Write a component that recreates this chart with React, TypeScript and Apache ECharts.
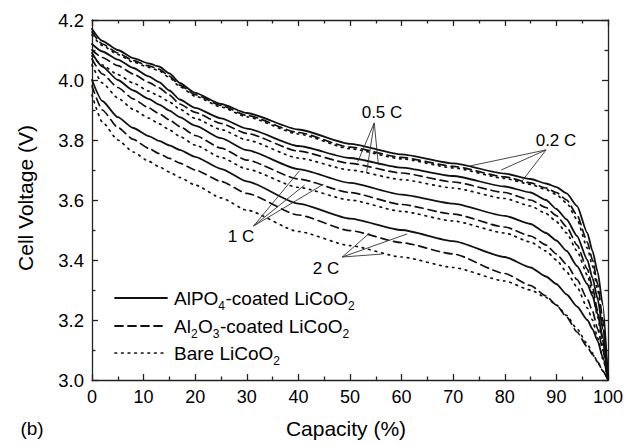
import React, { useEffect, useRef } from "react";
import * as echarts from "echarts";

const FONT = "'Liberation Sans', Arial, Helvetica, sans-serif";

// capacity (%) sample points shared by every curve
const capacity = [0, 2, 5, 8, 11, 13, 15, 17, 20, 25, 30, 40, 50, 60, 70, 80, 85, 88, 90, 92, 94, 96, 97, 98, 99, 100];

// AlPO4-coated LiCoO2 (solid)
const alpo4_02C = [4.17, 4.13, 4.1, 4.073, 4.055, 4.045, 4.022, 3.99, 3.957, 3.92, 3.89, 3.835, 3.787, 3.752, 3.722, 3.688, 3.67, 3.655, 3.643, 3.622, 3.58, 3.49, 3.43, 3.36, 3.25, 3.0];
const alpo4_05C = [4.12, 4.095, 4.068, 4.04, 4.012, 3.993, 3.965, 3.935, 3.907, 3.872, 3.838, 3.78, 3.74, 3.708, 3.68, 3.645, 3.625, 3.6, 3.57, 3.535, 3.48, 3.4, 3.34, 3.27, 3.17, 3.0];
const alpo4_1C = [4.09, 4.045, 4.0, 3.965, 3.937, 3.918, 3.898, 3.876, 3.848, 3.806, 3.766, 3.703, 3.657, 3.618, 3.588, 3.547, 3.52, 3.49, 3.465, 3.43, 3.38, 3.32, 3.28, 3.22, 3.14, 3.0];
const alpo4_2C = [4.0, 3.93, 3.876, 3.84, 3.813, 3.797, 3.782, 3.767, 3.744, 3.704, 3.662, 3.588, 3.538, 3.5, 3.463, 3.41, 3.375, 3.345, 3.32, 3.285, 3.245, 3.2, 3.17, 3.13, 3.075, 3.0];

// Al2O3-coated LiCoO2 (dashed)
const al2o3_02C = [4.16, 4.12, 4.09, 4.065, 4.047, 4.036, 4.013, 3.983, 3.951, 3.915, 3.882, 3.825, 3.776, 3.742, 3.712, 3.677, 3.657, 3.64, 3.625, 3.6, 3.55, 3.46, 3.4, 3.32, 3.2, 3.0];
const al2o3_05C = [4.1, 4.075, 4.048, 4.02, 3.992, 3.974, 3.95, 3.92, 3.892, 3.855, 3.822, 3.763, 3.722, 3.69, 3.66, 3.625, 3.6, 3.575, 3.548, 3.51, 3.45, 3.37, 3.31, 3.23, 3.13, 3.0];
const al2o3_1C = [4.07, 4.02, 3.975, 3.937, 3.907, 3.888, 3.867, 3.845, 3.815, 3.773, 3.733, 3.67, 3.625, 3.585, 3.553, 3.51, 3.48, 3.45, 3.42, 3.385, 3.335, 3.27, 3.23, 3.17, 3.1, 3.0];
const al2o3_2C = [3.98, 3.9, 3.842, 3.802, 3.772, 3.755, 3.739, 3.723, 3.7, 3.662, 3.622, 3.55, 3.498, 3.458, 3.42, 3.355, 3.315, 3.28, 3.25, 3.21, 3.16, 3.11, 3.085, 3.06, 3.03, 3.0];

// Bare LiCoO2 (dotted)
const bare_02C = [4.15, 4.115, 4.085, 4.06, 4.042, 4.031, 4.008, 3.978, 3.946, 3.91, 3.877, 3.82, 3.771, 3.737, 3.707, 3.672, 3.652, 3.635, 3.618, 3.59, 3.535, 3.44, 3.38, 3.3, 3.18, 3.0];
const bare_05C = [4.08, 4.05, 4.018, 3.99, 3.963, 3.946, 3.927, 3.903, 3.872, 3.835, 3.8, 3.74, 3.7, 3.668, 3.64, 3.605, 3.58, 3.555, 3.528, 3.49, 3.43, 3.35, 3.29, 3.21, 3.11, 3.0];
const bare_1C = [4.05, 3.99, 3.94, 3.902, 3.873, 3.854, 3.834, 3.812, 3.783, 3.742, 3.703, 3.642, 3.6, 3.562, 3.53, 3.49, 3.46, 3.43, 3.4, 3.36, 3.31, 3.24, 3.2, 3.14, 3.07, 3.0];
const bare_2C = [3.95, 3.86, 3.8, 3.76, 3.729, 3.711, 3.693, 3.675, 3.65, 3.607, 3.566, 3.495, 3.448, 3.41, 3.375, 3.33, 3.3, 3.275, 3.25, 3.215, 3.17, 3.12, 3.09, 3.06, 3.03, 3.0];

// annotation pointers: [fromCapacity, fromVoltage, toCapacity, toVoltage]
const pointers02C = [[88.0, 3.767, 73.1, 3.713], [88.0, 3.767, 79.3, 3.70], [88.0, 3.767, 83.2, 3.66]];
const pointers05C = [[54.7, 3.857, 51.5, 3.727], [54.7, 3.857, 53.2, 3.69], [54.7, 3.857, 55.5, 3.717]];
const pointers1C = [[31.3, 3.513, 40.2, 3.697], [31.3, 3.513, 41.2, 3.65], [31.3, 3.513, 44.9, 3.653]];
const pointers2C = [[48.5, 3.41, 53.8, 3.49], [48.5, 3.41, 61.1, 3.487], [48.5, 3.41, 56.3, 3.42]];

const xTicks = { min: 0, max: 100, interval: 10 };
const yTicks = { min: 3.0, max: 4.2, interval: 0.2 };

function toPairs(vals: number[]) {
  return capacity.map((c, i) => [c, vals[i]]);
}

const SOLID = { type: "solid" as const, width: 1.8 };
const DASHED = { type: [8, 5] as any, width: 1.7 };
const DOTTED = { type: [1.6, 5] as any, width: 1.7 };

function makeSeries(name: string, vals: number[], style: any, extra: any = {}) {
  return {
    name,
    type: "line",
    data: toPairs(vals),
    showSymbol: false,
    symbol: "none",
    smooth: 0.2,
    smoothMonotone: "x",
    lineStyle: { color: "#111", ...style, cap: "round" },
    silent: true,
    z: 3,
    ...extra,
  };
}

let measureCtx: CanvasRenderingContext2D | null = null;
function measure(text: string, size: number) {
  if (!measureCtx) measureCtx = document.createElement("canvas").getContext("2d");
  if (!measureCtx) return text.length * size * 0.55;
  measureCtx.font = `${size}px ${FONT}`;
  return measureCtx.measureText(text).width;
}

export default function App() {
  const ref = useRef<HTMLDivElement>(null);
  useEffect(() => {
    if (!ref.current) return;
    const chart = echarts.init(ref.current, undefined, { renderer: "svg" });
    const allPointers = [...pointers02C, ...pointers05C, ...pointers1C, ...pointers2C];
    const axisLineStyle = { color: "#222", width: 1.3 };
    const commonX = {
      type: "value",
      min: xTicks.min,
      max: xTicks.max,
      interval: xTicks.interval,
      splitLine: { show: false },
      axisLine: { show: true, lineStyle: axisLineStyle, onZero: false },
      axisTick: { show: true, inside: true, length: 6, lineStyle: axisLineStyle },
      minorTick: { show: true, splitNumber: 2, length: 3.5, lineStyle: axisLineStyle },
      minorSplitLine: { show: false },
    };
    const commonY = {
      type: "value",
      min: yTicks.min,
      max: yTicks.max,
      interval: yTicks.interval,
      splitLine: { show: false },
      axisLine: { show: true, lineStyle: axisLineStyle, onZero: false },
      axisTick: { show: true, inside: true, length: 6, lineStyle: axisLineStyle },
      minorTick: { show: true, splitNumber: 2, length: 3.5, lineStyle: axisLineStyle },
      minorSplitLine: { show: false },
    };
    const MAIN = 19;
    const SUB = 12;
    const legendItems = [
      { y: 298, dash: null as number[] | null, parts: [["AlPO", 0], ["4", 1], ["-coated LiCoO", 0], ["2", 1]] },
      { y: 326, dash: [8, 5], parts: [["Al", 0], ["2", 1], ["O", 0], ["3", 1], ["-coated LiCoO", 0], ["2", 1]] },
      { y: 353, dash: [1.6, 5], parts: [["Bare LiCoO", 0], ["2", 1]] },
    ];
    const graphics: any[] = [];
    legendItems.forEach((it) => {
      graphics.push({
        type: "line",
        shape: { x1: 115, y1: it.y, x2: 167, y2: it.y },
        style: { stroke: "#111", lineWidth: it.dash && it.dash[0] < 2 ? 1.7 : 1.8, lineDash: it.dash || undefined, lineCap: "round" },
        silent: true,
      });
      let x = 174;
      it.parts.forEach((p) => {
        const t = p[0] as string;
        const isSub = p[1] === 1;
        const size = isSub ? SUB : MAIN;
        graphics.push({
          type: "text",
          x,
          y: isSub ? it.y + 8 : it.y,
          style: { text: t, fontSize: size, fontFamily: FONT, fill: "#000", align: "left", verticalAlign: "middle" },
          silent: true,
        });
        x += measure(t, size) + (isSub ? 0.5 : 0);
      });
    });
    const annText = (t: string, x: number, y: number) => ({
      type: "text",
      x,
      y,
      style: { text: t, fontSize: 17, fontFamily: FONT, fill: "#000", align: "center", verticalAlign: "middle" },
      silent: true,
    });
    graphics.push(annText("0.5 C", 382, 112));
    graphics.push(annText("0.2 C", 556, 140));
    graphics.push(annText("1 C", 241, 236));
    graphics.push(annText("2 C", 326, 268));
    graphics.push({
      type: "text",
      x: 346,
      y: 428,
      style: { text: "Capacity (%)", fontSize: 21, fontFamily: FONT, fill: "#000", align: "center", verticalAlign: "middle" },
      silent: true,
    });
    graphics.push({
      type: "text",
      x: 32,
      y: 428,
      style: { text: "(b)", fontSize: 19, fontFamily: FONT, fill: "#000", align: "center", verticalAlign: "middle" },
      silent: true,
    });
    graphics.push({
      type: "text",
      x: 25,
      y: 198,
      rotation: Math.PI / 2,
      style: { text: "Cell Voltage (V)", fontSize: 21, fontFamily: FONT, fill: "#000", align: "center", verticalAlign: "middle" },
      silent: true,
    });

    chart.setOption({
      animation: false,
      backgroundColor: "#fff",
      grid: { left: 92, top: 20, width: 517, height: 360, containLabel: false },
      xAxis: [
        {
          ...commonX,
          position: "bottom",
          axisLabel: { show: true, fontSize: 18, fontFamily: FONT, color: "#000", margin: 8 },
        },
        { ...commonX, position: "top", axisLabel: { show: false } },
      ],
      yAxis: [
        {
          ...commonY,
          position: "left",
          axisLabel: {
            show: true,
            fontSize: 18.5,
            fontFamily: FONT,
            color: "#000",
            margin: 8,
            formatter: (v: number) => v.toFixed(1),
          },
        },
        { ...commonY, position: "right", axisLabel: { show: false } },
      ],
      series: [
        makeSeries("AlPO4 0.2C", alpo4_02C, SOLID, {
          markLine: {
            silent: true,
            symbol: ["none", "none"],
            label: { show: false },
            lineStyle: { color: "#333", width: 0.9, type: "solid" },
            emphasis: { disabled: true },
            data: allPointers.map((p) => [{ coord: [p[0], p[1]] }, { coord: [p[2], p[3]] }]),
          },
        }),
        makeSeries("AlPO4 0.5C", alpo4_05C, SOLID),
        makeSeries("AlPO4 1C", alpo4_1C, SOLID),
        makeSeries("AlPO4 2C", alpo4_2C, SOLID),
        makeSeries("Al2O3 0.2C", al2o3_02C, DASHED),
        makeSeries("Al2O3 0.5C", al2o3_05C, DASHED),
        makeSeries("Al2O3 1C", al2o3_1C, DASHED),
        makeSeries("Al2O3 2C", al2o3_2C, DASHED),
        makeSeries("Bare 0.2C", bare_02C, DOTTED),
        makeSeries("Bare 0.5C", bare_05C, DOTTED),
        makeSeries("Bare 1C", bare_1C, DOTTED),
        makeSeries("Bare 2C", bare_2C, DOTTED),
      ],
      graphic: graphics,
    });
    return () => chart.dispose();
  }, []);
  return (
    <div
      ref={ref}
      style={{ position: "fixed", left: 0, top: 0, width: 626, height: 446, background: "#fff" }}
    />
  );
}
